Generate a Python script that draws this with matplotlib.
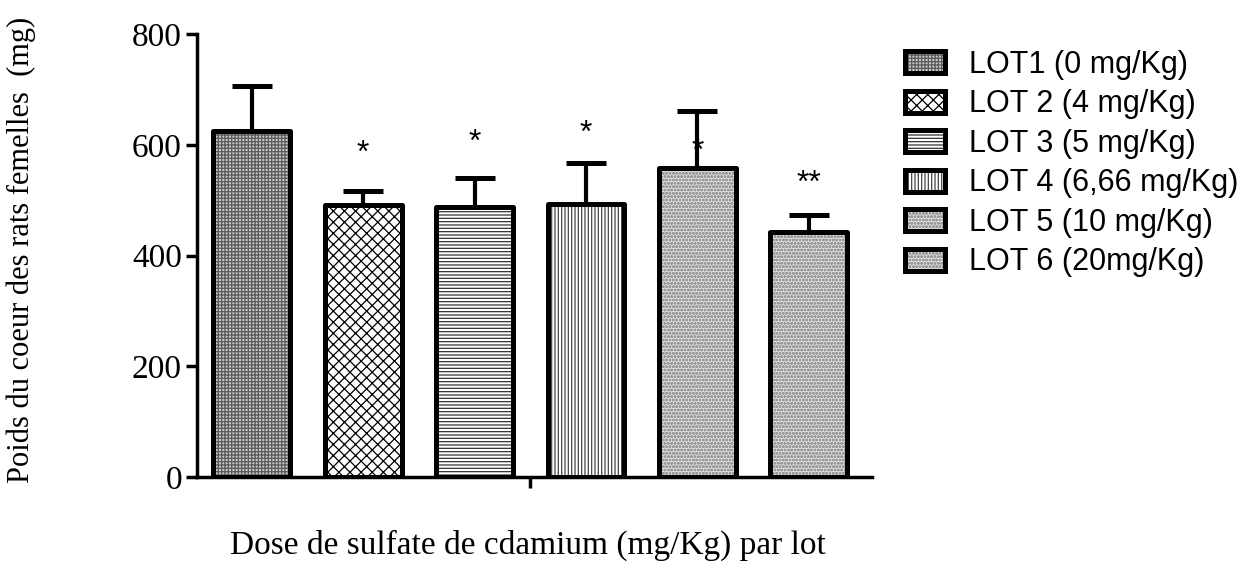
import matplotlib
matplotlib.use("Agg")
import matplotlib.pyplot as plt
from matplotlib.patches import Patch
from matplotlib.legend_handler import HandlerTuple

labels = ["LOT1 (0 mg/Kg)", "LOT 2 (4 mg/Kg)", "LOT 3 (5 mg/Kg)",
          "LOT 4 (6,66 mg/Kg)", "LOT 5 (10 mg/Kg)", "LOT 6 (20mg/Kg)"]
means = [625, 491, 488, 493, 558, 442]
errors = [81, 26, 52, 75, 104, 31]
stars = ["", "*", "*", "*", "*", "**"]
star_y = [None, 584, 604, 620, 587, 530]
yticks = [0, 200, 400, 600, 800]

faces = ["#c8c8c8", "white", "white", "white", "#e2e2e2", "#e2e2e2"]
hatches = ["+++++", "xxx", "-----", "|||||", "ooooo", "ooooo"]
hcols = ["#5a5a5a", "black", "#333333", "#444444", "#9a9a9a", "#9a9a9a"]

plt.rcParams["hatch.linewidth"] = 0.9
fig = plt.figure(figsize=(12.48, 5.68), dpi=100)
ax = fig.add_axes([0.158, 0.160, 0.541, 0.780])

x = list(range(1, 7))
handles = []
for i in range(6):
    ax.bar(x[i], means[i], width=0.69, color=faces[i], hatch=hatches[i],
           edgecolor=hcols[i], linewidth=0, zorder=2)
    ax.bar(x[i], means[i], width=0.69, fill=False, edgecolor="black",
           linewidth=3.6, zorder=3, joinstyle="round")
    ax.errorbar(x[i], means[i], yerr=[[0], [errors[i]]], fmt="none",
                ecolor="black", elinewidth=3.0, capsize=14.5, capthick=3.6,
                zorder=1)
    if stars[i]:
        ax.text(x[i], star_y[i], stars[i], ha="center", va="center",
                fontsize=23, family="Liberation Sans", zorder=4)
    ph = Patch(facecolor=faces[i], hatch=hatches[i], edgecolor=hcols[i], linewidth=0)
    pe = Patch(fill=False, edgecolor="black", linewidth=3.6, joinstyle="round")
    handles.append((ph, pe))

ax.set_xlim(0.51, 6.57)
ax.set_ylim(0, 800)
ax.set_yticks(yticks)
ax.set_yticklabels([str(v) for v in yticks], family="Liberation Serif", fontsize=24)
ax.set_xticks([3.5])
ax.set_xticklabels([""])
ax.tick_params(axis="y", length=8, width=2.5, pad=3)
ax.tick_params(axis="x", length=8, width=2.5)
for s in ["top", "right"]:
    ax.spines[s].set_visible(False)
for s in ["left", "bottom"]:
    ax.spines[s].set_linewidth(2.5)

fig.text(0.423, 0.04, "Dose de sulfate de cdamium (mg/Kg) par lot",
         ha="center", va="center", family="Liberation Serif", fontsize=24)
fig.text(0.017, 0.56, "Poids du coeur des rats femelles  (mg)", rotation=90,
         ha="center", va="center", family="Liberation Serif", fontsize=22)

leg = fig.legend(handles, labels, handler_map={tuple: HandlerTuple(ndivide=1, pad=0)},
                 loc="upper left", bbox_to_anchor=(0.725, 0.912), frameon=False,
                 prop={"family": "Liberation Sans", "size": 22},
                 handlelength=1.3, handleheight=0.72, handletextpad=0.8,
                 labelspacing=0.31, borderpad=0, borderaxespad=0)

fig.savefig("out.png", dpi=100)
